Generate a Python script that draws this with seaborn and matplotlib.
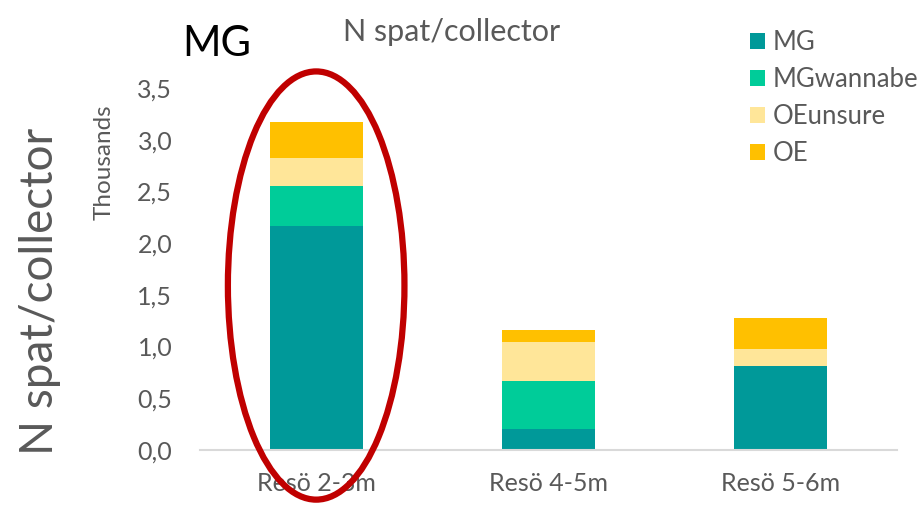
import pandas as pd
import numpy as np
import matplotlib
matplotlib.use('Agg')
import matplotlib.pyplot as plt
from matplotlib.patches import Ellipse, Patch
from matplotlib.ticker import FuncFormatter
import seaborn as sns

# Data (N spat/collector)
sites = ['Resö 2-3m', 'Resö 4-5m', 'Resö 5-6m']
mg = [2170, 200, 810]
mg_wannabe = [380, 470, 0]
oe_unsure = [270, 370, 170]
oe = [350, 120, 300]

series = ['MG', 'MGwannabe', 'OEunsure', 'OE']
colors = ['#009999', '#00CC99', '#FFE699', '#FFC000']

sns.set_theme(style='white')
plt.rcParams['font.family'] = ['Lato', 'DejaVu Sans']
grey = '#595959'

df = pd.DataFrame({'site': sites, 'MG': mg, 'MGwannabe': mg_wannabe,
                   'OEunsure': oe_unsure, 'OE': oe})
cum = df[series].cumsum(axis=1) / 1000

fig = plt.figure(figsize=(9.23, 5.08), dpi=100)
ax = fig.add_axes([0.2167, 0.1142, 0.7551, 0.7126])

# stacked bars: draw the tallest layer first
for s, c in reversed(list(zip(series, colors))):
    sns.barplot(x=df['site'], y=cum[s], color=c, width=0.4, ax=ax,
                saturation=1, linewidth=0)

ax.set_ylim(0, 3.5)
ax.set_yticks(np.arange(0, 3.51, 0.5))
ax.yaxis.set_major_formatter(FuncFormatter(lambda v, p: f'{v:.1f}'.replace('.', ',')))
ax.tick_params(axis='both', length=0, labelsize=18, labelcolor=grey)
ax.tick_params(axis='y', pad=20)
ax.tick_params(axis='x', pad=16)
ax.set_xlabel('')
ax.set_ylabel('')
sns.despine(ax=ax, left=True)
ax.spines['bottom'].set_color('#D9D9D9')
ax.spines['bottom'].set_linewidth(1.5)

ax.text(-0.138, 0.795, 'Thousands', transform=ax.transAxes, rotation=90,
        ha='center', va='center', fontsize=17.5, color=grey)
fig.text(0.043, 0.427, 'N spat/collector', rotation=90, ha='center',
         va='center', fontsize=33, color=grey)
fig.text(0.489, 0.937, 'N spat/collector', ha='center', va='center',
         fontsize=22, color=grey)
fig.text(0.197, 0.913, 'MG', ha='left', va='center', fontsize=30, color='black')

# red circle around the first bar
ell = Ellipse((0, 1.59), 0.76, 4.14, fill=False, edgecolor='#C00000',
              linewidth=4.5, clip_on=False, zorder=5)
ax.add_patch(ell)

handles = [Patch(facecolor=c, edgecolor='none') for c in colors]
fig.legend(handles, series, loc='upper left', bbox_to_anchor=(0.8126, 0.94),
           frameon=False, fontsize=18.5, labelcolor=grey, handlelength=0.58,
           handleheight=0.58, handletextpad=0.3, labelspacing=0.46,
           borderaxespad=0, borderpad=0)

fig.savefig('out.png', dpi=100)
